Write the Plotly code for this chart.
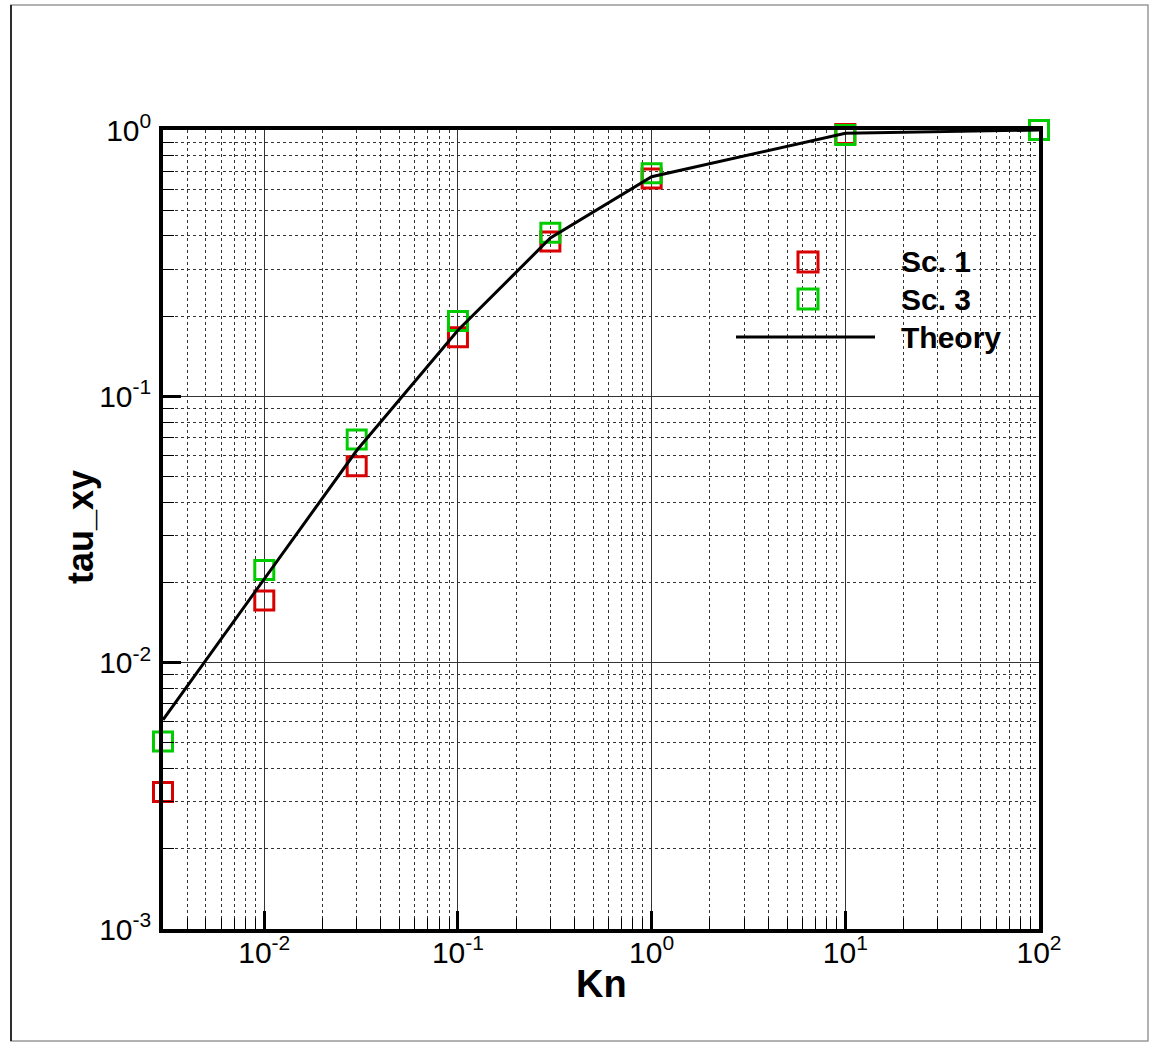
import plotly.graph_objects as go

# ---- data ----
kn = [0.003, 0.01, 0.03, 0.1, 0.3, 1.0, 10.0, 100.0]
sc1 = [0.00327, 0.0171, 0.0546, 0.1665, 0.381, 0.658, 0.965, 1.0]
sc3 = [0.00506, 0.0223, 0.0688, 0.1918, 0.411, 0.688, 0.958, 1.0]
theory = [0.0061, 0.0205, 0.0626, 0.177, 0.393, 0.668, 0.972, 1.0]

x_major = [0.01, 0.1, 1, 10, 100]
x_major_text = ["10<sup>-2</sup>", "10<sup>-1</sup>", "10<sup>0</sup>", "10<sup>1</sup>", "10<sup>2</sup>"]
y_major = [0.001, 0.01, 0.1, 1]
y_major_text = ["10<sup>-3</sup>", "10<sup>-2</sup>", "10<sup>-1</sup>", "10<sup>0</sup>"]

legend_names = ["Sc. 1", "Sc. 3", "Theory"]
RED = "#d80000"
GREEN = "#00cc00"

x_minor = [m * 10 ** e for e in range(-3, 2) for m in range(2, 10)]
y_minor = [m * 10 ** e for e in range(-3, 0) for m in range(2, 10)]

FONT = "Liberation Sans, Arial, sans-serif"

fig = go.Figure()
fig.add_trace(go.Scatter(x=kn, y=sc1, mode="markers", name=legend_names[0],
                         marker=dict(symbol="square-open", size=19, color=RED, line=dict(width=3, color=RED)),
                         cliponaxis=False, showlegend=False))
fig.add_trace(go.Scatter(x=kn, y=sc3, mode="markers", name=legend_names[1],
                         marker=dict(symbol="square-open", size=19, color=GREEN, line=dict(width=3, color=GREEN)),
                         cliponaxis=False, showlegend=False))
fig.add_trace(go.Scatter(x=kn, y=theory, mode="lines", name=legend_names[2],
                         line=dict(color="black", width=3), showlegend=False))

axis_common = dict(
    type="log", showline=True, linewidth=3.5, linecolor="black", mirror=True,
    ticks="inside", ticklen=18, tickwidth=3, tickcolor="black",
    showgrid=True, gridcolor="#333333", gridwidth=1,
    tickfont=dict(family=FONT, size=30, color="black"),
    tickmode="array", zeroline=False,
)

minor_common = dict(tickmode="array", ticks="inside", ticklen=11, tickwidth=1, tickcolor="black",
                    showgrid=True, gridcolor="#333333", gridwidth=1, griddash="dot")

fig.update_xaxes(**axis_common, range=[-2.5229, 2], tickvals=x_major, ticktext=x_major_text,
                 ticklabelstandoff=-6,
                 minor=dict(tickvals=x_minor, **minor_common))
fig.update_yaxes(**axis_common, range=[-3, 0], tickvals=y_major, ticktext=y_major_text,
                 ticklabelstandoff=2,
                 minor=dict(tickvals=y_minor, **minor_common))

L, R, T, B = 163, 120, 130, 114
W, H = 1159, 1043
pw, ph = W - L - R, H - T - B


def px(x):
    return (x - L) / pw


def py(y):
    return (H - B - y) / ph


shapes = []
# outer border
shapes.append(dict(type="rect", xref="paper", yref="paper", x0=px(11), x1=px(1148), y0=py(1041), y1=py(5),
                   line=dict(color="#999999", width=1.5), layer="below"))
shapes.append(dict(type="line", xref="paper", yref="paper", x0=px(11), x1=px(11), y0=py(1041), y1=py(5),
                   line=dict(color="black", width=1.5)))
# manual legend
hs = 10
for cy, col in [(262, RED), (299, GREEN)]:
    shapes.append(dict(type="rect", xref="paper", yref="paper", x0=px(808 - hs), x1=px(808 + hs),
                       y0=py(cy + hs), y1=py(cy - hs), line=dict(color=col, width=3)))
shapes.append(dict(type="line", xref="paper", yref="paper", x0=px(736), x1=px(875), y0=py(337), y1=py(337),
                   line=dict(color="black", width=3)))

annotations = []
for name, cy in zip(legend_names, [262, 299, 337]):
    annotations.append(dict(xref="paper", yref="paper", x=px(899), y=py(cy), text="<b>%s</b>" % name,
                            showarrow=False, xanchor="left", yanchor="middle",
                            font=dict(family=FONT, size=30, color="black")))
annotations.append(dict(xref="paper", yref="paper", x=px(601), y=py(984), text="<b>Kn</b>", showarrow=False,
                        xanchor="center", yanchor="middle", font=dict(family=FONT, size=38, color="black")))
annotations.append(dict(xref="paper", yref="paper", x=px(80), y=py(527), text="<b>tau_xy</b>", showarrow=False,
                        textangle=-90, xanchor="center", yanchor="middle",
                        font=dict(family=FONT, size=36, color="black")))

fig.update_layout(
    width=W, height=H, margin=dict(l=L, r=R, t=T, b=B),
    paper_bgcolor="white", plot_bgcolor="white",
    shapes=shapes, annotations=annotations, showlegend=False,
    font=dict(family=FONT, color="black"),
)

fig.write_html("out.html")
